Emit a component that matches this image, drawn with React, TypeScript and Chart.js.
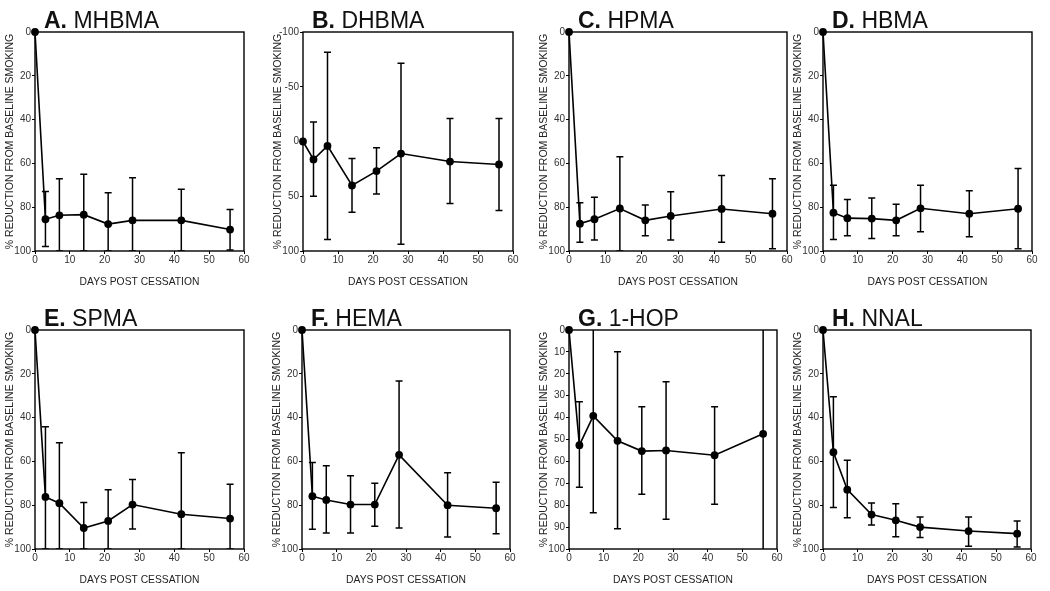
import React, { useEffect, useRef } from "react";
import { Chart, registerables } from "chart.js";

Chart.register(...registerables);

// ---------- DATA ----------
const days = [0, 3, 7, 14, 21, 28, 42, 56];

const mhbmaMean = [0, 85.5, 83.7, 83.4, 87.7, 86, 86, 90.2];
const mhbmaUpper = [0, 72.8, 67, 65, 73.4, 66.5, 71.8, 81];
const mhbmaLower = [0, 98, 100, 100, 100, 100, 100, 99.5];

const dhbmaMean = [0, 16.4, 4, 40.2, 27, 11, 18.3, 21];
const dhbmaUpper = [0, -17.7, -81.6, 15.5, 5.8, -71.5, -21, -21];
const dhbmaLower = [0, 49.9, 89.5, 64.5, 48, 93.8, 56.6, 63];

const hpmaMean = [0, 87.5, 85.5, 80.6, 86, 84, 80.8, 83];
const hpmaUpper = [0, 78, 75.5, 57, 79, 73, 65.5, 67];
const hpmaLower = [0, 96, 95, 100, 93, 95, 96, 99];

const hbmaMean = [0, 82.5, 85, 85.2, 86, 80.5, 83, 80.7];
const hbmaUpper = [0, 70, 76.5, 75.8, 78.7, 70, 72.5, 62.3];
const hbmaLower = [0, 94.7, 93, 94.3, 93, 91.2, 93.5, 99];

const spmaMean = [0, 76.2, 79.1, 90.4, 87.2, 79.7, 84.1, 86.1];
const spmaUpper = [0, 44.2, 51.5, 78.8, 73, 68.3, 56, 70.4];
const spmaLower = [0, 100, 100, 100, 100, 90.9, 100, 100];

const hemaMean = [0, 75.9, 77.6, 79.7, 79.7, 57, 80, 81.4];
const hemaUpper = [0, 60.5, 62, 66.6, 70, 23.3, 65.2, 69.5];
const hemaLower = [0, 91, 92.7, 92.7, 89.6, 90.4, 94.5, 93];

const hopMean = [0, 52.6, 39.2, 50.6, 55.3, 55, 57.2, 47.4];
const hopUpper = [0, 32.8, -8, 9.9, 35, 23.6, 35, -8];
const hopLower = [0, 71.8, 83.4, 90.7, 75, 86.4, 79.6, 104];

const nnalMean = [0, 55.8, 72.9, 84.3, 86.9, 90, 91.8, 93];
const nnalUpper = [0, 30.5, 59.5, 79, 79.3, 85.4, 85.4, 87.2];
const nnalLower = [0, 81, 85.7, 89, 94.4, 94.7, 98.8, 99.1];

const xTicks = [0, 10, 20, 30, 40, 50, 60];
const yTitle = "% REDUCTION FROM BASELINE SMOKING";
const xTitle = "DAYS POST CESSATION";

const panelData = [
  { letter: "A.", name: "MHBMA", mean: mhbmaMean, upper: mhbmaUpper, lower: mhbmaLower, yMin: 0, yMax: 100, yStep: 20 },
  { letter: "B.", name: "DHBMA", mean: dhbmaMean, upper: dhbmaUpper, lower: dhbmaLower, yMin: -100, yMax: 100, yStep: 50 },
  { letter: "C.", name: "HPMA", mean: hpmaMean, upper: hpmaUpper, lower: hpmaLower, yMin: 0, yMax: 100, yStep: 20 },
  { letter: "D.", name: "HBMA", mean: hbmaMean, upper: hbmaUpper, lower: hbmaLower, yMin: 0, yMax: 100, yStep: 20 },
  { letter: "E.", name: "SPMA", mean: spmaMean, upper: spmaUpper, lower: spmaLower, yMin: 0, yMax: 100, yStep: 20 },
  { letter: "F.", name: "HEMA", mean: hemaMean, upper: hemaUpper, lower: hemaLower, yMin: 0, yMax: 100, yStep: 20 },
  { letter: "G.", name: "1-HOP", mean: hopMean, upper: hopUpper, lower: hopLower, yMin: 0, yMax: 100, yStep: 10 },
  { letter: "H.", name: "NNAL", mean: nnalMean, upper: nnalUpper, lower: nnalLower, yMin: 0, yMax: 100, yStep: 20 },
];

// ---------- LAYOUT ----------
const panelLayout = [
  { left: 35, right: 244, top: 0 },
  { left: 303, right: 513, top: 0 },
  { left: 569, right: 787, top: 0 },
  { left: 823, right: 1032, top: 0 },
  { left: 35, right: 244, top: 298 },
  { left: 302, right: 510, top: 298 },
  { left: 569, right: 777, top: 298 },
  { left: 823, right: 1031, top: 298 },
];

const AXIS_W = 35;
const PAD_TOP = 32;
const PAD_RIGHT = 8;
const CANVAS_H = 295;
const X_AXIS_H = 44;
const FONT = '"Liberation Sans", Arial, Helvetica, sans-serif';

const errorBarPlugin = {
  id: "errorBars",
  beforeDatasetsDraw(chart: any, _args: any, opts: any) {
    const { ctx, chartArea, scales } = chart;
    const xs = scales.x;
    const ys = scales.y;
    ctx.save();
    ctx.beginPath();
    ctx.rect(chartArea.left - 5, chartArea.top, chartArea.right - chartArea.left + 10, chartArea.bottom - chartArea.top);
    ctx.clip();
    ctx.strokeStyle = "#000";
    ctx.lineWidth = 1.5;
    const cap = 3.5;
    opts.x.forEach((xv: number, i: number) => {
      const up = opts.upper[i];
      const lo = opts.lower[i];
      if (up === lo) return;
      const px = xs.getPixelForValue(xv);
      const py1 = ys.getPixelForValue(up);
      const py2 = ys.getPixelForValue(lo);
      ctx.beginPath();
      ctx.moveTo(px, py1);
      ctx.lineTo(px, py2);
      ctx.moveTo(px - cap, py1);
      ctx.lineTo(px + cap, py1);
      ctx.moveTo(px - cap, py2);
      ctx.lineTo(px + cap, py2);
      ctx.stroke();
    });
    ctx.restore();
  },
};

const framePlugin = {
  id: "frame",
  beforeDatasetsDraw(chart: any) {
    const { ctx, chartArea } = chart;
    ctx.save();
    ctx.strokeStyle = "#000";
    ctx.lineWidth = 1.4;
    ctx.strokeRect(chartArea.left, chartArea.top, chartArea.right - chartArea.left, chartArea.bottom - chartArea.top);
    ctx.restore();
  },
};

const titlePlugin = {
  id: "panelTitle",
  afterDraw(chart: any, _args: any, opts: any) {
    const { ctx, chartArea } = chart;
    ctx.save();
    ctx.fillStyle = "#111";
    ctx.textBaseline = "alphabetic";
    ctx.textAlign = "left";
    const x = chartArea.left + 9;
    const y = 27.5;
    ctx.font = `bold 23px ${FONT}`;
    ctx.fillText(opts.letter, x, y);
    const w = ctx.measureText(opts.letter).width;
    ctx.font = `23px ${FONT}`;
    ctx.fillText(" " + opts.name, x + w, y);
    ctx.restore();
  },
};

function Panel({ data, layout }: { data: any; layout: any }) {
  const ref = useRef<HTMLCanvasElement | null>(null);
  const width = layout.right - layout.left + AXIS_W + PAD_RIGHT;

  useEffect(() => {
    if (!ref.current) return;
    const chart = new Chart(ref.current, {
      type: "line",
      data: {
        datasets: [
          {
            data: days.map((d, i) => ({ x: d, y: data.mean[i] })),
            borderColor: "#000",
            borderWidth: 1.6,
            pointRadius: 3.9,
            pointBackgroundColor: "#000",
            pointBorderColor: "#000",
            pointBorderWidth: 0,
            tension: 0,
            clip: false as any,
          },
        ],
      },
      options: {
        responsive: false,
        animation: false,
        devicePixelRatio: 1,
        layout: { padding: { top: PAD_TOP, right: PAD_RIGHT, left: 0, bottom: 0 } },
        plugins: {
          legend: { display: false },
          tooltip: { enabled: false },
          errorBars: { x: days, upper: data.upper, lower: data.lower },
          panelTitle: { letter: data.letter, name: data.name },
        } as any,
        scales: {
          x: {
            type: "linear",
            min: 0,
            max: 60,
            afterBuildTicks: (scale: any) => {
              scale.ticks = xTicks.map((v) => ({ value: v }));
            },
            afterFit: (scale: any) => {
              scale.height = X_AXIS_H;
            },
            border: { display: false },
            grid: { drawOnChartArea: false, drawTicks: true, tickLength: 3, color: "#000", lineWidth: 1 },
            ticks: { color: "#333", padding: 0, font: { family: FONT, size: 10 }, maxRotation: 0 },
            title: {
              display: true,
              text: xTitle,
              color: "#222",
              font: { family: FONT, size: 10.3 },
              padding: { top: 4, bottom: 7 },
            },
          },
          y: {
            type: "linear",
            reverse: true,
            min: data.yMin,
            max: data.yMax,
            afterFit: (scale: any) => {
              scale.width = AXIS_W;
            },
            border: { display: false },
            grid: { drawOnChartArea: false, drawTicks: true, tickLength: 3, color: "#000", lineWidth: 1 },
            ticks: { stepSize: data.yStep, color: "#333", padding: 1, font: { family: FONT, size: 10 } },
            title: {
              display: true,
              text: yTitle,
              color: "#222",
              font: { family: FONT, size: 10.5 },
              padding: { top: 4, bottom: 0 },
            },
          },
        },
      },
      plugins: [framePlugin, errorBarPlugin, titlePlugin],
    } as any);
    return () => chart.destroy();
  }, [data]);

  return (
    <canvas
      ref={ref}
      width={width}
      height={CANVAS_H}
      style={{
        position: "absolute",
        left: layout.left - AXIS_W,
        top: layout.top,
        width: width,
        height: CANVAS_H,
      }}
    />
  );
}

export default function App() {
  return (
    <div
      style={{
        position: "absolute",
        left: 0,
        top: 0,
        width: 1050,
        height: 591,
        background: "#fff",
        overflow: "hidden",
      }}
    >
      {panelData.map((p, i) => (
        <Panel key={i} data={p} layout={panelLayout[i]} />
      ))}
    </div>
  );
}
